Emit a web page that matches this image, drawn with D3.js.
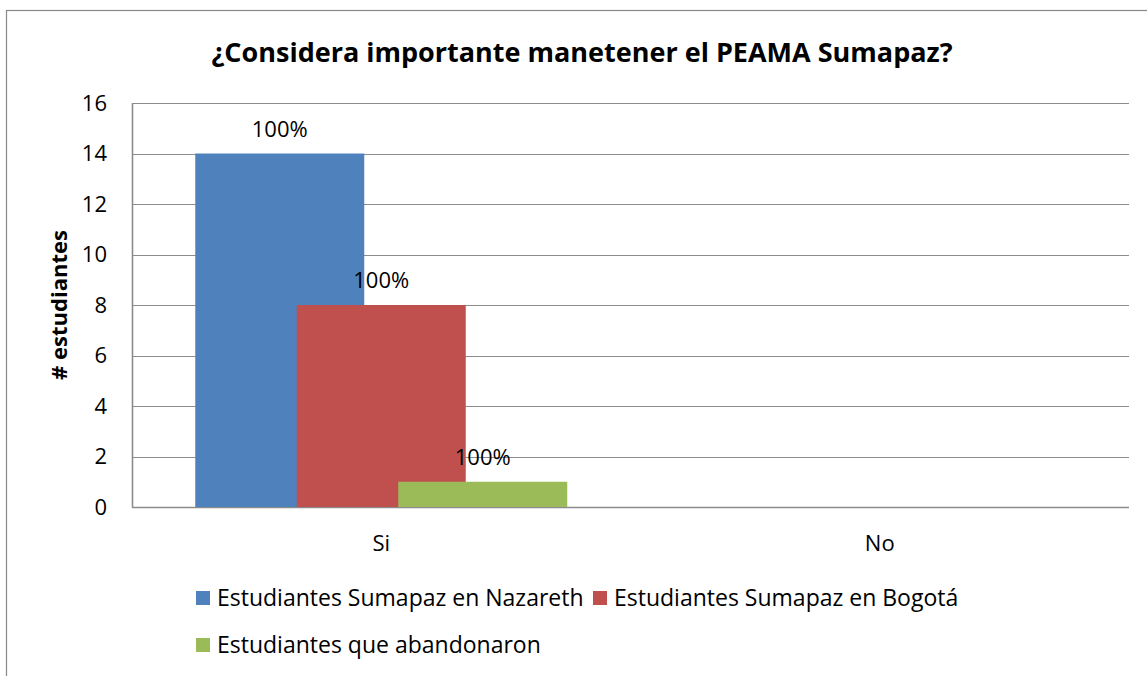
<!DOCTYPE html>
<html>
<head>
<meta charset="utf-8">
<script src="https://cdn.jsdelivr.net/npm/d3@7"></script>
<style>
  body { margin: 0; background: #fff; }
  svg { display: block; font-family: "Open Sans", Lato, sans-serif; }
</style>
</head>
<body>
<div id="chart"></div>
<script>
const width = 1147, height = 676;

// data
const categories = ["Si", "No"];
const seriesNames = ["Estudiantes Sumapaz en Nazareth", "Estudiantes Sumapaz en Bogotá", "Estudiantes que abandonaron"];
const nazareth = [14, 0];
const bogota = [8, 0];
const abandonaron = [1, 0];
const pctLabels = [["100%", null], ["100%", null], ["100%", null]];
const yTicks = [0, 2, 4, 6, 8, 10, 12, 14, 16];
const colors = ["#4f81bd", "#c0504d", "#9bbb59"];

const series = [nazareth, bogota, abandonaron];

const margin = {left: 132, right: 18, top: 103, bottom: 169};

const svg = d3.select("#chart").append("svg")
    .attr("width", width)
    .attr("height", height);

// outer chart border (cut off at right and bottom like the original)
svg.append("rect")
    .attr("x", 6.5).attr("y", 10.5)
    .attr("width", width + 20).attr("height", height + 20)
    .attr("fill", "#fff")
    .attr("stroke", "#888").attr("stroke-width", 1.2);

const x = d3.scaleBand()
    .domain(categories)
    .range([margin.left, width - margin.right]);

const y = d3.scaleLinear()
    .domain([0, 16])
    .range([height - margin.bottom, margin.top]);

// gridlines
svg.append("g")
    .selectAll("line")
    .data(yTicks)
    .enter().append("line")
    .attr("x1", margin.left).attr("x2", width - margin.right)
    .attr("y1", d => Math.round(y(d)) + 0.5).attr("y2", d => Math.round(y(d)) + 0.5)
    .attr("stroke", "#8c8c8c")
    .attr("stroke-width", d => d === 0 ? 1.6 : 1.2);

// y axis line
svg.append("line")
    .attr("x1", margin.left + 0.5).attr("x2", margin.left + 0.5)
    .attr("y1", y(16)).attr("y2", y(0))
    .attr("stroke", "#8c8c8c").attr("stroke-width", 1.6);

// y tick labels
svg.append("g")
    .selectAll("text")
    .data(yTicks)
    .enter().append("text")
    .attr("x", 107)
    .attr("y", d => y(d))
    .attr("dy", "0.35em")
    .attr("text-anchor", "end")
    .attr("font-size", 22)
    .attr("fill", "#000")
    .text(d => d);

// bars: overlapping clustered columns
const barW = 169, barStep = 101.5;
const groupW = barW + barStep * (series.length - 1);
const barX = (cat, i) => x(cat) + x.bandwidth() / 2 - groupW / 2 + i * barStep;

series.forEach(function (vals, i) {
    svg.append("g")
        .selectAll("rect")
        .data(vals.map((v, j) => ({cat: categories[j], v: v})))
        .enter().append("rect")
        .attr("x", d => barX(d.cat, i))
        .attr("y", d => y(d.v))
        .attr("width", barW)
        .attr("height", d => y(0) - y(d.v))
        .attr("fill", colors[i]);
});

// data labels
series.forEach(function (vals, i) {
    svg.append("g")
        .selectAll("text")
        .data(vals.map((v, j) => ({cat: categories[j], v: v, lab: pctLabels[i][j]})).filter(d => d.lab))
        .enter().append("text")
        .attr("x", d => barX(d.cat, i) + barW / 2)
        .attr("y", d => y(d.v) - 17)
        .attr("text-anchor", "middle")
        .attr("font-size", 22)
        .text(d => d.lab);
});

// x labels
svg.append("g")
    .selectAll("text")
    .data(categories)
    .enter().append("text")
    .attr("x", d => x(d) + x.bandwidth() / 2)
    .attr("y", 551)
    .attr("text-anchor", "middle")
    .attr("font-size", 22)
    .text(d => d);

// title
svg.append("text")
    .attr("x", 582).attr("y", 62)
    .attr("text-anchor", "middle")
    .attr("font-size", 27)
    .attr("font-weight", "bold")
    .text("¿Considera importante manetener el PEAMA Sumapaz?");

// y axis title
svg.append("text")
    .attr("transform", "translate(67,305) rotate(-90)")
    .attr("text-anchor", "middle")
    .attr("font-size", 22)
    .attr("font-weight", "bold")
    .text("# estudiantes");

// legend
const legendPos = [[196, 598], [593, 598], [196, 645]];
const legend = svg.append("g")
    .selectAll("g")
    .data(seriesNames)
    .enter().append("g")
    .attr("transform", (d, i) => "translate(" + legendPos[i][0] + "," + legendPos[i][1] + ")");
legend.append("rect")
    .attr("x", 0).attr("y", -7)
    .attr("width", 14).attr("height", 14)
    .attr("fill", (d, i) => colors[i]);
legend.append("text")
    .attr("x", 21).attr("y", 0)
    .attr("dy", "0.35em")
    .attr("font-size", 23)
    .text(d => d);
</script>
</body>
</html>
